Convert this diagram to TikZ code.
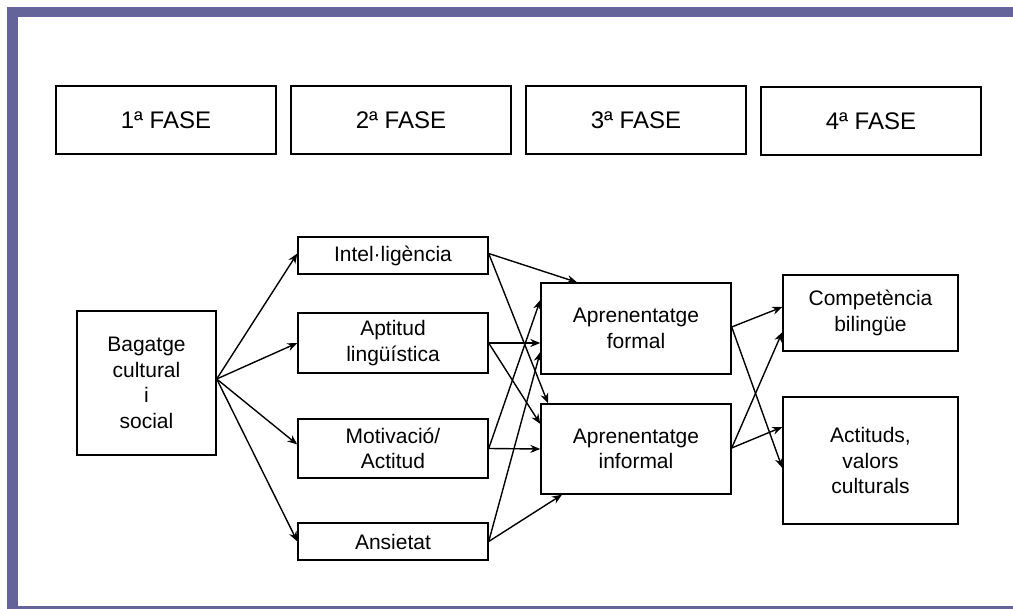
\documentclass[tikz,border=0pt]{standalone}
\usepackage{fontspec}
\setmainfont{Liberation Sans}
\usetikzlibrary{arrows.meta}
\definecolor{frameblue}{RGB}{100,100,155}
\begin{document}
\begin{tikzpicture}[x=1pt, y=-1pt,
	fase/.style={draw, line width=2.8pt, minimum width=220pt, minimum height=68pt, font=\fontsize{24}{28}\selectfont},
	box/.style={draw, line width=1.4pt, align=center, inner sep=0pt, font=\fontsize{21}{25.5}\selectfont},
	every edge/.style={draw, line width=1.4pt, -{Stealth[length=10pt, width=8pt]}}]
	\useasboundingbox (0,0) rectangle (1013,609);
	\fill[frameblue] (7,7) rectangle (1013,17);
	\fill[frameblue] (7,7) rectangle (18,609);
	\fill[frameblue] (7,606) rectangle (1013,609);
	
	\node[fase] (F1) at (166,120) {1ª FASE};
	\node[fase] (F2) at (401,120) {2ª FASE};
	\node[fase] (F3) at (636,120) {3ª FASE};
	\node[fase] (F4) at (871,121) {4ª FASE};
	
	\node[box, minimum width=139pt, minimum height=144pt] (B) at (146.5,383) {Bagatge\\cultural\\i\\social};
	\node[box, minimum width=190pt, minimum height=37pt] (I) at (393,255.5) {Intel·ligència};
	\node[box, minimum width=190pt, minimum height=60pt] (AL) at (393,343) {Aptitud\\lingüística};
	\node[box, minimum width=190pt, minimum height=59pt] (M) at (393,448.5) {Motivació/\\Actitud};
	\node[box, minimum width=190pt, minimum height=37pt] (AN) at (393,541.5) {Ansietat};
	\node[box, minimum width=190pt, minimum height=91pt] (AF) at (636,328.5) {Aprenentatge\\formal};
	\node[box, minimum width=190pt, minimum height=90pt] (AI) at (636,449) {Aprenentatge\\informal};
	\node[box, minimum width=175pt, minimum height=76pt] (C) at (870.5,313) {Competència\\bilingüe};
	\node[box, minimum width=175pt, minimum height=127pt] (V) at (870.5,460.5) {Actituds,\\valors\\culturals};
	
	\path ([yshift=4pt]B.east) edge ([yshift=2pt]I.west);
	\path ([yshift=4pt]B.east) edge (AL.west);
	\path ([yshift=4pt]B.east) edge ([yshift=4pt]M.west);
	\path ([yshift=4pt]B.east) edge (AN.west);
	
	\path ([yshift=2pt]I.east) edge ([xshift=-59pt]AF.north);
	\path ([yshift=2pt]I.east) edge ([xshift=-88pt]AI.north);
	\path (AL.east) edge ([yshift=-14.5pt]AF.west);
	\path (AL.east) edge ([yshift=25pt]AI.west);
	\path (M.east) edge ([yshift=28.5pt]AF.west);
	\path (M.east) edge (AI.west);
	\path (AN.east) edge ([yshift=-23.5pt]AF.west);
	\path (AN.east) edge ([xshift=-74pt]AI.south);
	
	\path ([yshift=1.5pt]AF.east) edge ([yshift=6pt]C.west);
	\path ([yshift=1.5pt]AF.east) edge ([yshift=-7.5pt]V.west);
	\path ([yshift=1pt]AI.east) edge ([yshift=-19pt]C.west);
	\path ([yshift=1pt]AI.east) edge ([yshift=33.5pt]V.west);
\end{tikzpicture}
\end{document}
